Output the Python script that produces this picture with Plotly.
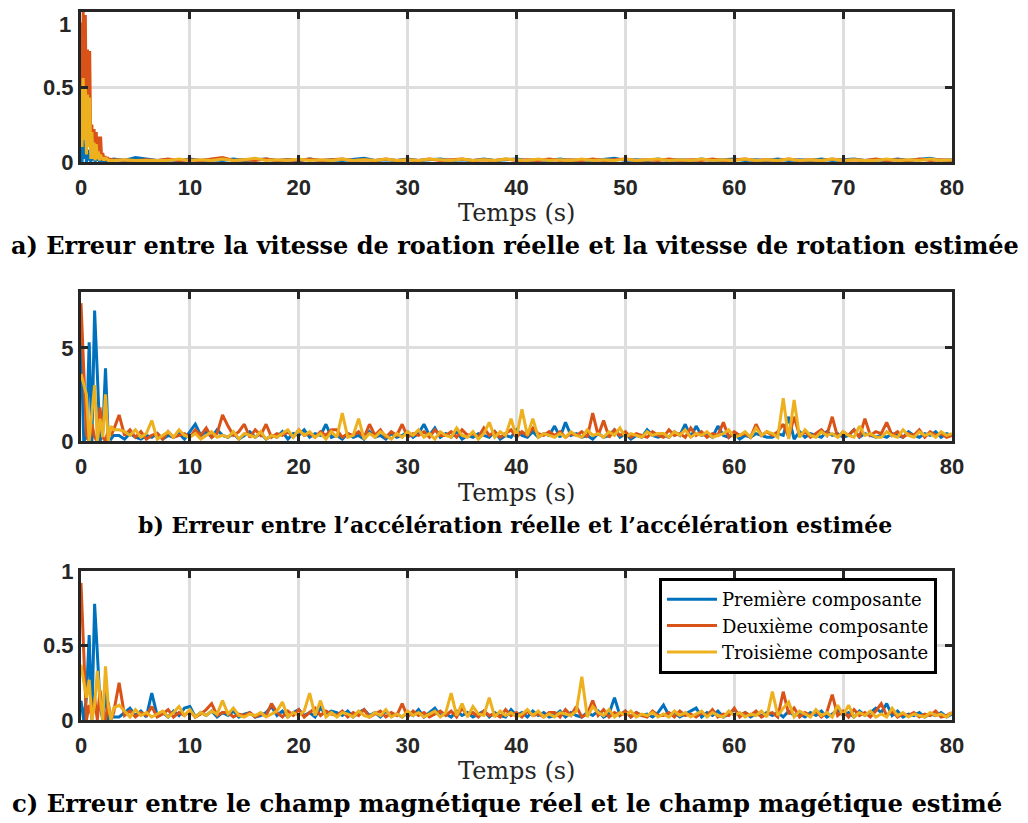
import numpy as np
import plotly.graph_objects as go
from plotly.subplots import make_subplots

# time grids
t_a = np.concatenate([np.arange(0, 2.55, 0.1), np.arange(3, 80.5, 1.0)])
t_bc = np.concatenate([np.arange(0, 3.01, 0.25), np.arange(3.5, 80.01, 0.5)])

# a) rotation speed error
a_blue = [0.1, 0.0, 0.15, 0.02, 0.12, 0.0, 0.08, 0.01, 0.06, 0.0, 0.05, 0.01, 0.04, 0.0, 0.03, 0.01,
          0.03, 0.0, 0.02, 0.01, 0.02, 0.01, 0.02, 0.01, 0.02, 0.01,
          0.02, 0.01, 0.03, 0.02, 0.01, 0.015, 0.01, 0.02, 0.01, 0.015,
          0.01, 0.02, 0.01, 0.015, 0.02, 0.01, 0.015, 0.01, 0.02, 0.01,
          0.015, 0.01, 0.02, 0.025, 0.01, 0.015, 0.01, 0.02, 0.01, 0.015,
          0.02, 0.01, 0.015, 0.01, 0.02, 0.01, 0.015, 0.02, 0.01, 0.015,
          0.01, 0.02, 0.01, 0.015, 0.01, 0.02, 0.025, 0.01, 0.015, 0.01,
          0.02, 0.01, 0.015, 0.01, 0.02, 0.01, 0.015, 0.02, 0.01, 0.015,
          0.01, 0.02, 0.01, 0.015, 0.01, 0.02, 0.01, 0.015, 0.02, 0.01,
          0.015, 0.01, 0.02, 0.01, 0.015, 0.025, 0.01, 0.015]
a_orange = [0.93, 0.2, 1.0, 0.3, 0.98, 0.1, 0.75, 0.2, 0.74, 0.05, 0.25, 0.02, 0.22, 0.03, 0.2, 0.02,
            0.17, 0.03, 0.17, 0.01, 0.06, 0.01, 0.04, 0.01, 0.03, 0.02,
            0.015, 0.01, 0.01, 0.015, 0.01, 0.02, 0.01, 0.015, 0.01, 0.02,
            0.03, 0.01, 0.015, 0.01, 0.02, 0.01, 0.015, 0.01, 0.02, 0.01,
            0.015, 0.02, 0.01, 0.015, 0.01, 0.02, 0.01, 0.015, 0.01, 0.02,
            0.01, 0.015, 0.02, 0.01, 0.015, 0.01, 0.02, 0.01, 0.015, 0.01,
            0.02, 0.01, 0.015, 0.01, 0.02, 0.01, 0.015, 0.02, 0.01, 0.015,
            0.01, 0.02, 0.01, 0.015, 0.01, 0.02, 0.01, 0.015, 0.02, 0.01,
            0.015, 0.01, 0.02, 0.01, 0.015, 0.01, 0.02, 0.01, 0.015, 0.01,
            0.02, 0.01, 0.015, 0.01, 0.02, 0.01, 0.015, 0.01]
a_yellow = [0.51, 0.1, 0.56, 0.15, 0.5, 0.05, 0.45, 0.1, 0.43, 0.02, 0.2, 0.02, 0.13, 0.01, 0.12, 0.02,
            0.07, 0.01, 0.05, 0.02, 0.03, 0.01, 0.03, 0.02, 0.02, 0.01,
            0.01, 0.015, 0.01, 0.01, 0.015, 0.01, 0.02, 0.01, 0.015, 0.01,
            0.02, 0.01, 0.015, 0.025, 0.01, 0.015, 0.01, 0.02, 0.01, 0.015,
            0.01, 0.02, 0.01, 0.015, 0.01, 0.02, 0.01, 0.015, 0.01, 0.02,
            0.015, 0.01, 0.02, 0.01, 0.015, 0.01, 0.02, 0.015, 0.01, 0.02,
            0.01, 0.015, 0.01, 0.02, 0.01, 0.015, 0.01, 0.02, 0.01, 0.015,
            0.02, 0.01, 0.015, 0.01, 0.02, 0.01, 0.015, 0.01, 0.02, 0.01,
            0.015, 0.01, 0.02, 0.01, 0.015, 0.01, 0.02, 0.01, 0.015, 0.01,
            0.01, 0.02, 0.01, 0.015, 0.01, 0.02, 0.01, 0.015]

# b) acceleration error
b_blue = [5.3, 0.0, 0.2, 5.3, 0.0, 7.0, 3.6, 0.0, 0.5, 3.9, 0.2, 0.1, 0.3,
          0.3, 0.1, 0.4, 0.2, 0.1, 0.3, 0.2, 0.4, 0.1, 0.3, 0.2, 0.4, 0.1, 0.5, 0.9, 0.3, 0.5, 0.2, 0.6, 0.3,
          0.2, 0.4, 0.1, 0.3, 0.5, 0.2, 0.4, 0.1, 0.3, 0.2, 0.5, 0.1, 0.4, 0.3, 0.6, 0.2, 0.4, 0.3, 0.9, 0.2,
          0.3, 0.1, 0.4, 0.2, 0.3, 0.1, 0.5, 0.2, 0.3, 0.1, 0.4, 0.2, 0.3, 0.5, 0.2, 0.4, 0.9, 0.3, 0.7, 0.2,
          0.4, 0.2, 0.5, 0.1, 0.3, 0.2, 0.4, 0.3, 0.2, 0.5, 0.1, 0.3, 0.2, 0.6, 0.3, 0.2, 0.5, 0.2, 0.4, 0.3,
          0.8, 0.2, 1.0, 0.3, 0.4, 0.2, 0.3, 0.1, 0.4, 0.2, 0.3, 0.6, 0.2, 0.4, 0.1, 0.3, 0.2, 0.6, 0.3, 0.2,
          0.3, 0.2, 0.5, 0.3, 0.9, 0.2, 0.8, 0.3, 0.4, 0.2, 0.8, 0.3, 0.2, 0.4, 0.1, 0.3, 0.2, 0.4, 0.3, 0.2,
          0.2, 0.4, 0.3, 1.3, 0.1, 0.5, 0.2, 0.4, 0.3, 0.2, 0.5, 0.3, 0.4, 0.2, 0.3, 0.6, 0.2, 0.4, 0.3, 0.2,
          0.3, 0.2, 0.4, 0.3, 0.2, 0.5, 0.3, 0.2, 0.4, 0.3, 0.5, 0.2, 0.4, 0.3]
b_orange = [7.4, 3.5, 0.3, 0.0, 0.9, 0.2, 0.0, 1.8, 0.2, 0.0, 0.6, 0.3, 0.6,
            1.4, 0.3, 0.6, 0.2, 0.5, 0.1, 0.3, 0.4, 0.1, 0.5, 0.2, 0.3, 0.4, 0.2, 0.6, 0.3, 0.7, 0.2, 0.4, 1.4,
            0.8, 0.3, 0.5, 0.9, 0.2, 0.6, 0.3, 0.9, 0.2, 0.4, 0.3, 0.5, 0.2, 0.6, 0.3, 0.4, 0.2, 0.5, 0.3, 0.6,
            0.6, 0.2, 0.4, 0.3, 0.5, 0.2, 0.9, 0.3, 0.6, 0.2, 0.5, 0.3, 0.9, 0.2, 0.4, 0.3, 0.5, 0.2, 0.6, 0.3,
            0.3, 0.5, 0.2, 0.6, 0.3, 0.4, 0.2, 0.7, 0.3, 0.5, 0.2, 0.4, 0.6, 0.2, 0.5, 0.3, 0.7, 0.4, 0.3, 0.5,
            0.3, 0.5, 0.2, 0.4, 0.3, 0.5, 0.2, 1.5, 0.3, 1.1, 0.2, 0.6, 0.3, 0.5, 0.2, 0.4, 0.3, 0.2, 0.5, 0.3,
            0.2, 0.6, 0.3, 0.4, 0.2, 0.7, 0.3, 0.5, 0.2, 0.4, 0.3, 1.0, 0.2, 0.5, 0.3, 0.4, 0.2, 0.9, 0.3, 0.5,
            0.3, 0.5, 0.9, 0.2, 1.3, 0.3, 0.5, 0.2, 0.4, 0.6, 0.3, 1.3, 0.2, 0.5, 0.3, 0.6, 0.2, 1.2, 0.3, 0.5,
            0.4, 1.0, 0.3, 0.5, 0.2, 0.4, 0.3, 0.6, 0.2, 0.5, 0.3, 0.4, 0.2, 0.3]
b_yellow = [3.6, 3.0, 2.5, 0.0, 1.5, 3.0, 0.0, 1.2, 0.2, 2.5, 0.0, 0.8, 0.6,
            0.6, 0.5, 0.3, 0.6, 0.2, 0.4, 1.1, 0.1, 0.3, 0.5, 0.2, 0.6, 0.3, 0.2, 0.4, 0.1, 0.3, 0.5, 0.2, 0.3,
            0.2, 0.5, 0.1, 0.4, 0.3, 0.2, 0.5, 0.1, 0.3, 0.2, 0.4, 0.6, 0.2, 0.6, 0.3, 0.5, 0.2, 0.4, 0.1, 0.5,
            0.2, 1.5, 0.2, 0.3, 1.2, 0.1, 0.4, 0.2, 0.5, 0.3, 0.1, 0.4, 0.2, 0.5, 0.3, 0.6, 0.2, 0.4, 0.1, 0.5,
            0.3, 0.2, 0.7, 0.3, 0.2, 0.5, 0.1, 0.4, 1.0, 0.2, 0.5, 0.3, 1.2, 0.2, 1.7, 0.3, 1.2, 0.2, 0.4, 0.3,
            0.2, 0.4, 0.2, 0.5, 0.3, 0.2, 0.6, 0.3, 0.4, 0.2, 0.5, 0.3, 0.7, 0.2, 0.4, 0.3, 0.2, 0.5, 0.3, 0.4,
            0.4, 0.2, 0.5, 0.3, 0.6, 0.2, 0.4, 0.3, 0.5, 0.2, 0.3, 0.4, 0.6, 0.2, 0.3, 0.5, 0.2, 0.7, 0.3, 0.5,
            0.4, 0.2, 2.3, 0.1, 2.2, 0.2, 0.6, 0.3, 0.2, 0.5, 0.3, 0.4, 0.2, 0.5, 0.3, 0.2, 0.8, 0.3, 0.4, 0.2,
            0.2, 0.5, 0.3, 0.2, 0.6, 0.3, 0.2, 0.5, 0.3, 0.4, 0.2, 0.5, 0.3, 0.4]

# c) magnetic field error
c_blue = [0.13, 0.0, 0.15, 0.57, 0.0, 0.78, 0.45, 0.1, 0.0, 0.2, 0.0, 0.05, 0.02,
          0.02, 0.05, 0.08, 0.03, 0.06, 0.02, 0.18, 0.03, 0.05, 0.02, 0.06, 0.03, 0.08, 0.09, 0.02, 0.05, 0.03, 0.06, 0.02, 0.05,
          0.03, 0.06, 0.02, 0.04, 0.05, 0.02, 0.03, 0.05, 0.09, 0.03, 0.06, 0.02, 0.05, 0.07, 0.03, 0.05, 0.02, 0.08, 0.04, 0.06,
          0.05, 0.03, 0.06, 0.02, 0.05, 0.07, 0.03, 0.05, 0.02, 0.06, 0.03, 0.04, 0.02, 0.05, 0.03, 0.07, 0.02, 0.05, 0.08, 0.03,
          0.04, 0.02, 0.06, 0.03, 0.05, 0.02, 0.04, 0.06, 0.02, 0.05, 0.03, 0.02, 0.07, 0.03, 0.05, 0.02, 0.06, 0.03, 0.05, 0.02,
          0.03, 0.06, 0.02, 0.05, 0.03, 0.02, 0.05, 0.03, 0.06, 0.02, 0.04, 0.15, 0.03, 0.06, 0.02, 0.05, 0.03, 0.04, 0.02, 0.05,
          0.1, 0.03, 0.05, 0.02, 0.04, 0.06, 0.08, 0.02, 0.05, 0.03, 0.06, 0.02, 0.04, 0.07, 0.03, 0.05, 0.02, 0.04, 0.03, 0.05,
          0.03, 0.05, 0.02, 0.06, 0.03, 0.04, 0.02, 0.05, 0.03, 0.06, 0.02, 0.04, 0.07, 0.03, 0.05, 0.02, 0.06, 0.03, 0.05, 0.08,
          0.05, 0.11, 0.03, 0.06, 0.02, 0.04, 0.03, 0.05, 0.02, 0.04, 0.03, 0.05, 0.02, 0.04]
c_orange = [0.92, 0.45, 0.0, 0.1, 0.02, 0.15, 0.0, 0.2, 0.05, 0.0, 0.12, 0.0, 0.05,
            0.25, 0.03, 0.06, 0.02, 0.05, 0.03, 0.09, 0.02, 0.04, 0.07, 0.02, 0.05, 0.03, 0.06, 0.02, 0.04, 0.07, 0.11, 0.03, 0.05,
            0.05, 0.02, 0.04, 0.03, 0.05, 0.02, 0.04, 0.03, 0.11, 0.05, 0.02, 0.06, 0.03, 0.07, 0.02, 0.05, 0.08, 0.03, 0.06, 0.04,
            0.03, 0.06, 0.02, 0.05, 0.03, 0.07, 0.02, 0.04, 0.06, 0.02, 0.05, 0.03, 0.11, 0.02, 0.06, 0.03, 0.05, 0.02, 0.04, 0.06,
            0.03, 0.06, 0.02, 0.08, 0.03, 0.05, 0.02, 0.06, 0.03, 0.04, 0.02, 0.07, 0.03, 0.05, 0.02, 0.06, 0.03, 0.04, 0.02, 0.05,
            0.05, 0.02, 0.07, 0.03, 0.09, 0.02, 0.04, 0.13, 0.03, 0.07, 0.02, 0.05, 0.03, 0.06, 0.02, 0.05, 0.03, 0.02, 0.06, 0.03,
            0.03, 0.05, 0.02, 0.06, 0.03, 0.04, 0.02, 0.05, 0.03, 0.07, 0.02, 0.04, 0.03, 0.08, 0.02, 0.05, 0.03, 0.06, 0.02, 0.04,
            0.05, 0.02, 0.19, 0.04, 0.08, 0.02, 0.05, 0.03, 0.06, 0.02, 0.05, 0.17, 0.03, 0.06, 0.02, 0.07, 0.03, 0.05, 0.02, 0.06,
            0.11, 0.03, 0.06, 0.02, 0.04, 0.03, 0.05, 0.02, 0.04, 0.03, 0.06, 0.02, 0.03, 0.05]
c_yellow = [0.37, 0.25, 0.15, 0.27, 0.0, 0.1, 0.33, 0.15, 0.0, 0.36, 0.1, 0.0, 0.08,
            0.1, 0.06, 0.02, 0.07, 0.03, 0.05, 0.02, 0.04, 0.06, 0.02, 0.05, 0.09, 0.03, 0.07, 0.02, 0.05, 0.03, 0.06, 0.04, 0.13,
            0.04, 0.08, 0.03, 0.02, 0.04, 0.03, 0.05, 0.02, 0.04, 0.06, 0.12, 0.02, 0.05, 0.03, 0.06, 0.18, 0.03, 0.13, 0.02, 0.05,
            0.02, 0.05, 0.04, 0.02, 0.06, 0.03, 0.02, 0.05, 0.03, 0.07, 0.02, 0.04, 0.02, 0.06, 0.03, 0.05, 0.02, 0.04, 0.06, 0.02,
            0.05, 0.18, 0.03, 0.11, 0.02, 0.09, 0.04, 0.03, 0.15, 0.02, 0.06, 0.03, 0.05, 0.02, 0.04, 0.07, 0.03, 0.06, 0.02, 0.04,
            0.02, 0.05, 0.04, 0.03, 0.06, 0.29, 0.02, 0.09, 0.05, 0.03, 0.07, 0.02, 0.05, 0.03, 0.06, 0.02, 0.04, 0.03, 0.05, 0.02,
            0.04, 0.02, 0.06, 0.03, 0.05, 0.02, 0.04, 0.06, 0.02, 0.05, 0.03, 0.02, 0.06, 0.03, 0.05, 0.02, 0.04, 0.03, 0.06, 0.02,
            0.19, 0.03, 0.08, 0.12, 0.02, 0.06, 0.04, 0.02, 0.07, 0.03, 0.05, 0.02, 0.1, 0.03, 0.1, 0.02, 0.05, 0.03, 0.06, 0.02,
            0.04, 0.02, 0.08, 0.03, 0.05, 0.02, 0.04, 0.03, 0.02, 0.05, 0.03, 0.04, 0.02, 0.05]

names = ["Première composante", "Deuxième composante", "Troisième composante"]
colors = ["#0072BD", "#D95319", "#EDB120"]
captions = [
    "a) Erreur entre la vitesse de roation réelle et la vitesse de rotation estimée",
    "b) Erreur entre l’accélération réelle et l’accélération estimée",
    "c) Erreur entre le champ magnétique réel et le champ magétique estimé",
]

fig = make_subplots(rows=3, cols=1)

panels = [(t_a, [a_blue, a_orange, a_yellow]),
          (t_bc, [b_blue, b_orange, b_yellow]),
          (t_bc, [c_blue, c_orange, c_yellow])]
for row, (t, series) in enumerate(panels, start=1):
    for k, ys in enumerate(series):
        fig.add_trace(go.Scatter(x=t, y=ys, mode="lines", name=names[k],
                                 line=dict(color=colors[k], width=3),
                                 showlegend=(row == 3)), row=row, col=1)

# page pixels: plot boxes at y 12-162, 292-441, 571-720 ; x 81-952
# (the page body adds an 8 px offset, taken off the margins)
H = 708.0
def py(p):
    return (720 - p) / H

domains = [(py(162), 1.0), (py(441), py(292)), (0.0, py(571))]
yranges = [[0, 1], [0, 8], [0, 1]]
yticks = [[0, 0.5, 1], [0, 5], [0, 0.5, 1]]
# the top "1" of the first panel sits at the page edge, drawn below as a note
ytext = [["0", "0.5", ""], ["0", "5"], ["0", "0.5", "1"]]

tickfont = dict(family="Liberation Sans, Arial, sans-serif", size=22, color="#262626", weight="bold")
for i in range(3):
    fig.update_xaxes(range=[0, 80], tickvals=list(range(0, 81, 10)), ticks="inside", ticklen=7,
                     tickwidth=3, tickcolor="#262626", showline=True, mirror="allticks",
                     linecolor="#262626", linewidth=3, showgrid=True, gridcolor="#dedede",
                     gridwidth=3, zeroline=False, tickfont=tickfont, ticklabelstandoff=4,
                     automargin=False, row=i + 1, col=1)
    fig.update_yaxes(range=yranges[i], tickvals=yticks[i], ticktext=ytext[i], ticks="inside",
                     ticklen=7, tickwidth=3, tickcolor="#262626", showline=True, mirror="allticks",
                     linecolor="#262626", linewidth=3, showgrid=True, gridcolor="#dedede",
                     gridwidth=3, zeroline=False, tickfont=tickfont, domain=list(domains[i]),
                     automargin=False, ticklabeloverflow="allow", row=i + 1, col=1)

fig.add_annotation(text="1", x=(73 - 81) / 871, y=1.0, xref="paper", yref="paper",
                   xanchor="right", yanchor="top", yshift=2, showarrow=False, font=tickfont)

serif = "DejaVu Serif, Liberation Serif, serif"
for p in [213, 493, 771]:
    fig.add_annotation(text="Temps (s)", x=0.5, y=py(p), xref="paper", yref="paper",
                       xanchor="center", yanchor="middle", showarrow=False,
                       font=dict(family=serif, size=24, color="#262626"))
for cap, p, cx, fs in zip(captions, [245, 525, 803], [515, 515, 507], [24, 22, 24.3]):
    fig.add_annotation(text="<b>" + cap + "</b>", x=(cx - 81) / 871, y=py(p), xref="paper",
                       yref="paper", xanchor="center", yanchor="middle", showarrow=False,
                       font=dict(family=serif, size=fs, color="#000000"))

fig.update_layout(
    width=1020, height=815,
    margin=dict(l=73, r=76, t=4, b=103),
    paper_bgcolor="white", plot_bgcolor="white",
    legend=dict(x=(937 - 81) / 871, y=py(578), xanchor="right", yanchor="top",
                bgcolor="white", bordercolor="#000000", borderwidth=3,
                font=dict(family=serif, size=18, color="#000000"),
                tracegroupgap=0, itemwidth=50),
)

fig.write_html("out.html")
